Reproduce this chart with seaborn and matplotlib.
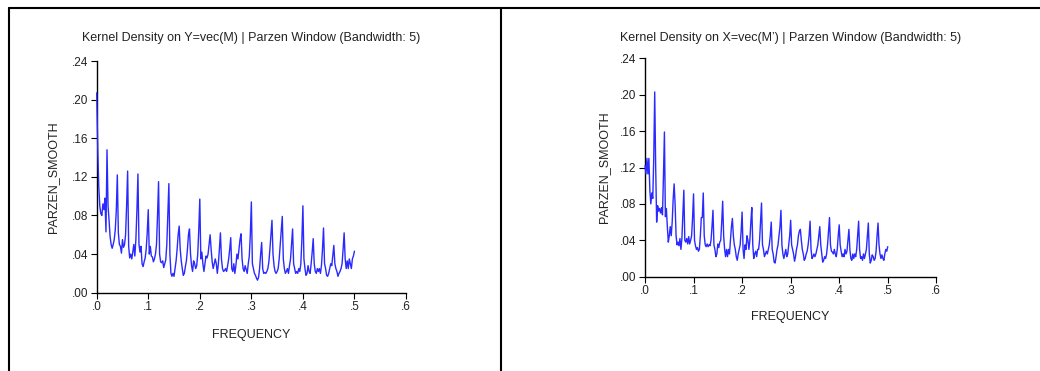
import numpy as np
import pandas as pd
import matplotlib
matplotlib.use("Agg")
import matplotlib.pyplot as plt
from matplotlib.lines import Line2D
import seaborn as sns

# ---------------- data ----------------
freq_step = 0.002
n_points = 251
frequency = [round(i * freq_step, 3) for i in range(n_points)]

smooth_y = [
    0.207, 0.150, 0.110, 0.090, 0.082, 0.080, 0.092, 0.086, 0.098, 0.063,
    0.148, 0.090, 0.075, 0.058, 0.050, 0.046, 0.050, 0.055, 0.065, 0.085,
    0.122, 0.062, 0.050, 0.048, 0.041, 0.055, 0.047, 0.050, 0.060, 0.090,
    0.126, 0.048, 0.036, 0.040, 0.035, 0.042, 0.050, 0.038, 0.055, 0.085,
    0.123, 0.050, 0.042, 0.048, 0.030, 0.027, 0.032, 0.036, 0.045, 0.062,
    0.086, 0.040, 0.048, 0.038, 0.037, 0.032, 0.035, 0.040, 0.050, 0.080,
    0.115, 0.040, 0.032, 0.031, 0.033, 0.026, 0.030, 0.034, 0.050, 0.080,
    0.113, 0.040, 0.020, 0.017, 0.020, 0.017, 0.025, 0.033, 0.045, 0.060,
    0.069, 0.045, 0.033, 0.025, 0.018, 0.020, 0.027, 0.033, 0.045, 0.060,
    0.066, 0.040, 0.028, 0.022, 0.033, 0.030, 0.025, 0.028, 0.040, 0.065,
    0.097, 0.035, 0.042, 0.030, 0.022, 0.030, 0.038, 0.036, 0.040, 0.050,
    0.060, 0.045, 0.032, 0.025, 0.030, 0.035, 0.030, 0.020, 0.030, 0.045,
    0.062, 0.035, 0.025, 0.022, 0.023, 0.025, 0.022, 0.028, 0.035, 0.045,
    0.057, 0.025, 0.022, 0.030, 0.020, 0.028, 0.040, 0.035, 0.045, 0.055,
    0.061, 0.035, 0.025, 0.022, 0.028, 0.024, 0.020, 0.030, 0.038, 0.060,
    0.094, 0.030, 0.025, 0.020, 0.018, 0.015, 0.013, 0.016, 0.025, 0.040,
    0.052, 0.025, 0.020, 0.021, 0.020, 0.022, 0.025, 0.032, 0.045, 0.060,
    0.075, 0.040, 0.028, 0.022, 0.020, 0.022, 0.025, 0.035, 0.050, 0.065,
    0.079, 0.035, 0.025, 0.020, 0.022, 0.025, 0.020, 0.028, 0.035, 0.050,
    0.066, 0.030, 0.025, 0.020, 0.022, 0.020, 0.025, 0.022, 0.030, 0.055,
    0.090, 0.035, 0.025, 0.018, 0.020, 0.028, 0.022, 0.020, 0.030, 0.042,
    0.056, 0.030, 0.022, 0.020, 0.025, 0.022, 0.025, 0.020, 0.028, 0.045,
    0.067, 0.030, 0.025, 0.018, 0.017, 0.020, 0.025, 0.030, 0.028, 0.038,
    0.049, 0.030, 0.025, 0.022, 0.017, 0.020, 0.022, 0.025, 0.030, 0.045,
    0.062, 0.035, 0.025, 0.033, 0.025, 0.035, 0.030, 0.025, 0.035, 0.038,
    0.043,
]

smooth_x = [
    0.122, 0.113, 0.130, 0.113, 0.130, 0.095, 0.080, 0.092, 0.086, 0.130,
    0.203, 0.120, 0.060, 0.078, 0.072, 0.075, 0.070, 0.076, 0.068, 0.110,
    0.159, 0.066, 0.075, 0.055, 0.038, 0.045, 0.055, 0.045, 0.060, 0.085,
    0.102, 0.080, 0.045, 0.035, 0.038, 0.034, 0.042, 0.030, 0.042, 0.070,
    0.095, 0.040, 0.038, 0.042, 0.036, 0.044, 0.036, 0.040, 0.045, 0.065,
    0.091, 0.040, 0.034, 0.030, 0.032, 0.028, 0.030, 0.045, 0.065, 0.065,
    0.092, 0.045, 0.035, 0.033, 0.036, 0.033, 0.035, 0.034, 0.040, 0.055,
    0.073, 0.035, 0.030, 0.022, 0.025, 0.036, 0.032, 0.038, 0.040, 0.060,
    0.083, 0.045, 0.030, 0.022, 0.030, 0.022, 0.030, 0.025, 0.040, 0.055,
    0.064, 0.045, 0.035, 0.030, 0.022, 0.018, 0.025, 0.030, 0.035, 0.050,
    0.071, 0.030, 0.020, 0.035, 0.030, 0.045, 0.040, 0.030, 0.040, 0.060,
    0.076, 0.035, 0.020, 0.025, 0.028, 0.022, 0.030, 0.030, 0.040, 0.060,
    0.081, 0.035, 0.030, 0.022, 0.025, 0.028, 0.025, 0.030, 0.035, 0.045,
    0.060, 0.030, 0.025, 0.016, 0.015, 0.022, 0.030, 0.035, 0.045, 0.055,
    0.073, 0.035, 0.025, 0.020, 0.025, 0.030, 0.022, 0.025, 0.035, 0.045,
    0.062, 0.035, 0.030, 0.025, 0.017, 0.022, 0.030, 0.035, 0.045, 0.050,
    0.052, 0.040, 0.030, 0.025, 0.018, 0.020, 0.025, 0.028, 0.035, 0.045,
    0.061, 0.030, 0.020, 0.022, 0.025, 0.022, 0.025, 0.030, 0.035, 0.045,
    0.055, 0.035, 0.025, 0.016, 0.018, 0.022, 0.020, 0.025, 0.035, 0.050,
    0.065, 0.035, 0.028, 0.027, 0.025, 0.030, 0.025, 0.022, 0.030, 0.045,
    0.057, 0.035, 0.028, 0.022, 0.025, 0.022, 0.030, 0.025, 0.028, 0.040,
    0.052, 0.030, 0.020, 0.018, 0.025, 0.020, 0.025, 0.022, 0.030, 0.045,
    0.061, 0.030, 0.020, 0.022, 0.018, 0.025, 0.020, 0.025, 0.030, 0.045,
    0.059, 0.025, 0.015, 0.018, 0.024, 0.022, 0.018, 0.020, 0.028, 0.045,
    0.059, 0.035, 0.025, 0.020, 0.024, 0.020, 0.018, 0.025, 0.030, 0.028,
    0.033,
]

titles = [
    "Kernel Density on Y=vec(M) | Parzen Window (Bandwidth: 5)",
    "Kernel Density on X=vec(M\u2019) | Parzen Window (Bandwidth: 5)",
]
x_label = "FREQUENCY"
y_label = "PARZEN_SMOOTH"
x_ticks = [0.0, 0.1, 0.2, 0.3, 0.4, 0.5, 0.6]
x_tick_labels = [".0", ".1", ".2", ".3", ".4", ".5", ".6"]
y_ticks = [0.00, 0.04, 0.08, 0.12, 0.16, 0.20, 0.24]
y_tick_labels = [".00", ".04", ".08", ".12", ".16", ".20", ".24"]

# ---------------- style ----------------
sns.set_theme(style="ticks")
plt.rcParams["font.family"] = ["Liberation Sans", "DejaVu Sans"]

fig = plt.figure(figsize=(10.4, 3.71), dpi=100)
W, H = 1040, 371

def ax_rect(l, t, r, b):
    return [l / W, 1 - b / H, (r - l) / W, (b - t) / H]

ax1 = fig.add_axes(ax_rect(96.7, 61, 406, 292.7))
ax2 = fig.add_axes(ax_rect(645, 58.3, 936.3, 276.7))

df_y = pd.DataFrame({"FREQUENCY": frequency, "PARZEN_SMOOTH": smooth_y})
df_x = pd.DataFrame({"FREQUENCY": frequency, "PARZEN_SMOOTH": smooth_x})

line_color = "#2a2aff"
panels = [
    (ax1, df_y, titles[0], 14.5, 11.5, 9.5),
    (ax2, df_x, titles[1], 12.5, 10, 7.5),
]
for ax, df, title, tpad, xpad, ypad in panels:
    sns.lineplot(data=df, x="FREQUENCY", y="PARZEN_SMOOTH", ax=ax,
                 color=line_color, linewidth=1.0, zorder=3)
    for ln in ax.get_lines():
        ln.set_clip_on(False)
    ax.set_xlim(0, 0.6)
    ax.set_ylim(0, 0.24)
    ax.set_xticks(x_ticks)
    ax.set_xticklabels(x_tick_labels)
    ax.set_yticks(y_ticks)
    ax.set_yticklabels(y_tick_labels)
    ax.tick_params(axis="both", labelsize=8.5, length=4, width=0.8,
                   color="black", labelcolor="#222222", pad=2, direction="out")
    for side in ["top", "right"]:
        ax.spines[side].set_visible(False)
    for side in ["left", "bottom"]:
        ax.spines[side].set_color("black")
        ax.spines[side].set_linewidth(1.0)
        ax.spines[side].set_zorder(2)
    ax.set_title(title, fontsize=9, pad=tpad, color="#222222")
    ax.set_xlabel(x_label, fontsize=9, labelpad=xpad, color="#222222")
    ax.set_ylabel(y_label, fontsize=9, labelpad=ypad, color="#222222")
    ax.set_facecolor("white")

# outer frame lines
frame_kw = dict(color="black", linewidth=1.5, transform=fig.transFigure)
fig.add_artist(Line2D([9 / W, 1.0], [1 - 8 / H, 1 - 8 / H], **frame_kw))
fig.add_artist(Line2D([9 / W, 9 / W], [0, 1 - 8 / H], **frame_kw))
fig.add_artist(Line2D([500.5 / W, 500.5 / W], [0, 1 - 8 / H], **frame_kw))

fig.savefig("out.png", dpi=100, facecolor="white")
